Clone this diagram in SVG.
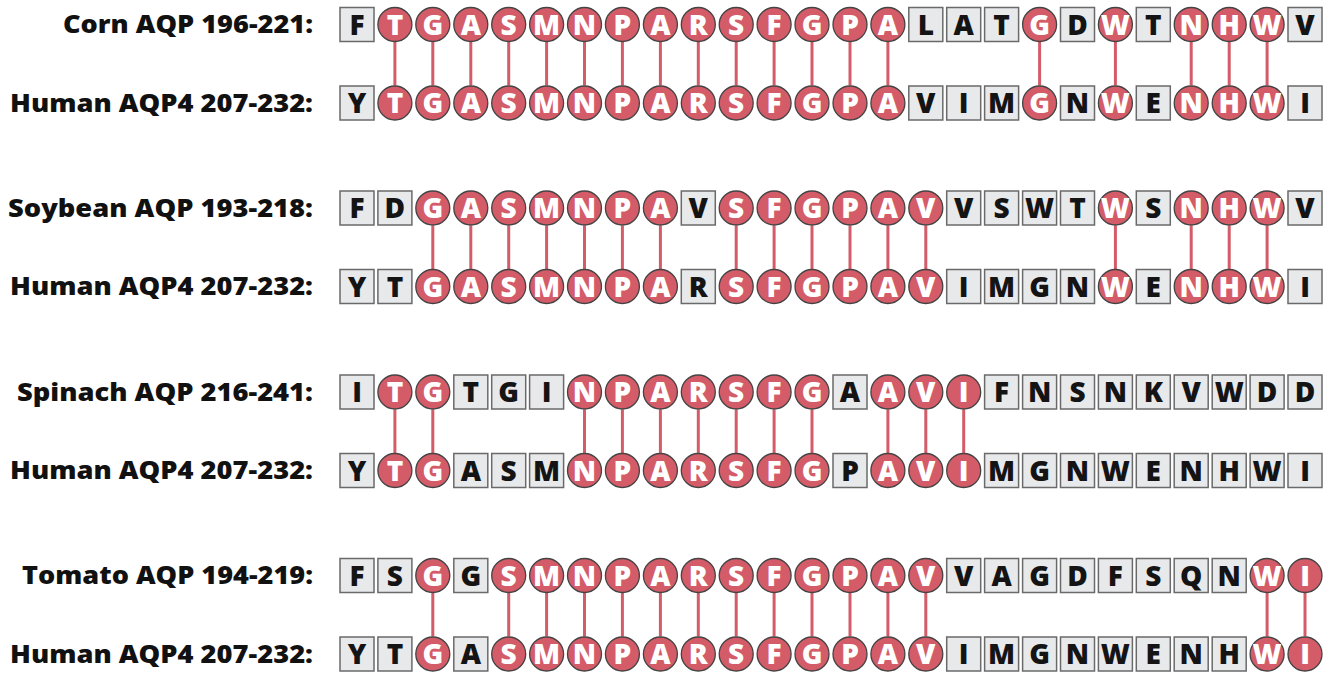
<svg xmlns="http://www.w3.org/2000/svg" width="1332" height="674" viewBox="0 0 1332 674">
<style>
.lbl{font-family:"Open Sans","Liberation Sans",sans-serif;font-weight:800;font-size:24px;fill:#111}
.b use{fill:#e8e9eb;stroke:#6a6a6a;stroke-width:1.5}
.c use{fill:#d45b68;stroke:#444;stroke-width:1.3}
.b text,.c text{font-family:"Open Sans","Liberation Sans",sans-serif;font-weight:800;font-size:28px;text-anchor:middle}
.b text{fill:#141414}
.c text{fill:#fff}
#connectors line{stroke:#d45b68;stroke-width:3}
</style>
<defs>
<rect id="bx" x="-17" y="-17" width="34" height="34"/>
<circle id="cc" r="17"/>
</defs>
<g id="labels">
<text class="lbl" x="63" y="33" textLength="250" lengthAdjust="spacingAndGlyphs">Corn AQP 196-221:</text>
<text class="lbl" x="10" y="111.5" textLength="303" lengthAdjust="spacingAndGlyphs">Human AQP4 207-232:</text>
<text class="lbl" x="8" y="216.5" textLength="305" lengthAdjust="spacingAndGlyphs">Soybean AQP 193-218:</text>
<text class="lbl" x="10" y="295" textLength="303" lengthAdjust="spacingAndGlyphs">Human AQP4 207-232:</text>
<text class="lbl" x="17" y="400.5" textLength="296" lengthAdjust="spacingAndGlyphs">Spinach AQP 216-241:</text>
<text class="lbl" x="10" y="479" textLength="303" lengthAdjust="spacingAndGlyphs">Human AQP4 207-232:</text>
<text class="lbl" x="22" y="584" textLength="291" lengthAdjust="spacingAndGlyphs">Tomato AQP 194-219:</text>
<text class="lbl" x="10" y="662.5" textLength="303" lengthAdjust="spacingAndGlyphs">Human AQP4 207-232:</text>
</g>
<g id="connectors">
<line x1="394.9" y1="42" x2="394.9" y2="85.5"/><line x1="432.8" y1="42" x2="432.8" y2="85.5"/><line x1="470.8" y1="42" x2="470.8" y2="85.5"/><line x1="508.7" y1="42" x2="508.7" y2="85.5"/><line x1="546.6" y1="42" x2="546.6" y2="85.5"/><line x1="584.5" y1="42" x2="584.5" y2="85.5"/><line x1="622.4" y1="42" x2="622.4" y2="85.5"/><line x1="660.4" y1="42" x2="660.4" y2="85.5"/><line x1="698.3" y1="42" x2="698.3" y2="85.5"/><line x1="736.2" y1="42" x2="736.2" y2="85.5"/><line x1="774.1" y1="42" x2="774.1" y2="85.5"/><line x1="812" y1="42" x2="812" y2="85.5"/><line x1="850" y1="42" x2="850" y2="85.5"/><line x1="887.9" y1="42" x2="887.9" y2="85.5"/><line x1="1039.6" y1="42" x2="1039.6" y2="85.5"/><line x1="1115.4" y1="42" x2="1115.4" y2="85.5"/><line x1="1191.2" y1="42" x2="1191.2" y2="85.5"/><line x1="1229.2" y1="42" x2="1229.2" y2="85.5"/><line x1="1267.1" y1="42" x2="1267.1" y2="85.5"/>
<line x1="432.8" y1="225.5" x2="432.8" y2="269"/><line x1="470.8" y1="225.5" x2="470.8" y2="269"/><line x1="508.7" y1="225.5" x2="508.7" y2="269"/><line x1="546.6" y1="225.5" x2="546.6" y2="269"/><line x1="584.5" y1="225.5" x2="584.5" y2="269"/><line x1="622.4" y1="225.5" x2="622.4" y2="269"/><line x1="660.4" y1="225.5" x2="660.4" y2="269"/><line x1="736.2" y1="225.5" x2="736.2" y2="269"/><line x1="774.1" y1="225.5" x2="774.1" y2="269"/><line x1="812" y1="225.5" x2="812" y2="269"/><line x1="850" y1="225.5" x2="850" y2="269"/><line x1="887.9" y1="225.5" x2="887.9" y2="269"/><line x1="925.8" y1="225.5" x2="925.8" y2="269"/><line x1="1115.4" y1="225.5" x2="1115.4" y2="269"/><line x1="1191.2" y1="225.5" x2="1191.2" y2="269"/><line x1="1229.2" y1="225.5" x2="1229.2" y2="269"/><line x1="1267.1" y1="225.5" x2="1267.1" y2="269"/>
<line x1="394.9" y1="409.5" x2="394.9" y2="453"/><line x1="432.8" y1="409.5" x2="432.8" y2="453"/><line x1="584.5" y1="409.5" x2="584.5" y2="453"/><line x1="622.4" y1="409.5" x2="622.4" y2="453"/><line x1="660.4" y1="409.5" x2="660.4" y2="453"/><line x1="698.3" y1="409.5" x2="698.3" y2="453"/><line x1="736.2" y1="409.5" x2="736.2" y2="453"/><line x1="774.1" y1="409.5" x2="774.1" y2="453"/><line x1="812" y1="409.5" x2="812" y2="453"/><line x1="887.9" y1="409.5" x2="887.9" y2="453"/><line x1="925.8" y1="409.5" x2="925.8" y2="453"/><line x1="963.7" y1="409.5" x2="963.7" y2="453"/>
<line x1="432.8" y1="593" x2="432.8" y2="636.5"/><line x1="508.7" y1="593" x2="508.7" y2="636.5"/><line x1="546.6" y1="593" x2="546.6" y2="636.5"/><line x1="584.5" y1="593" x2="584.5" y2="636.5"/><line x1="622.4" y1="593" x2="622.4" y2="636.5"/><line x1="660.4" y1="593" x2="660.4" y2="636.5"/><line x1="698.3" y1="593" x2="698.3" y2="636.5"/><line x1="736.2" y1="593" x2="736.2" y2="636.5"/><line x1="774.1" y1="593" x2="774.1" y2="636.5"/><line x1="812" y1="593" x2="812" y2="636.5"/><line x1="850" y1="593" x2="850" y2="636.5"/><line x1="887.9" y1="593" x2="887.9" y2="636.5"/><line x1="925.8" y1="593" x2="925.8" y2="636.5"/><line x1="1267.1" y1="593" x2="1267.1" y2="636.5"/><line x1="1305" y1="593" x2="1305" y2="636.5"/>
</g>
<g id="row-corn">
<g id="corn-1" class="b" transform="translate(357 24.5)"><use href="#bx"/><text y="10">F</text></g>
<g id="corn-2" class="c" transform="translate(394.9 24.5)"><use href="#cc"/><text y="10">T</text></g>
<g id="corn-3" class="c" transform="translate(432.8 24.5)"><use href="#cc"/><text y="10">G</text></g>
<g id="corn-4" class="c" transform="translate(470.8 24.5)"><use href="#cc"/><text y="10">A</text></g>
<g id="corn-5" class="c" transform="translate(508.7 24.5)"><use href="#cc"/><text y="10">S</text></g>
<g id="corn-6" class="c" transform="translate(546.6 24.5)"><use href="#cc"/><text y="10">M</text></g>
<g id="corn-7" class="c" transform="translate(584.5 24.5)"><use href="#cc"/><text y="10">N</text></g>
<g id="corn-8" class="c" transform="translate(622.4 24.5)"><use href="#cc"/><text y="10">P</text></g>
<g id="corn-9" class="c" transform="translate(660.4 24.5)"><use href="#cc"/><text y="10">A</text></g>
<g id="corn-10" class="c" transform="translate(698.3 24.5)"><use href="#cc"/><text y="10">R</text></g>
<g id="corn-11" class="c" transform="translate(736.2 24.5)"><use href="#cc"/><text y="10">S</text></g>
<g id="corn-12" class="c" transform="translate(774.1 24.5)"><use href="#cc"/><text y="10">F</text></g>
<g id="corn-13" class="c" transform="translate(812 24.5)"><use href="#cc"/><text y="10">G</text></g>
<g id="corn-14" class="c" transform="translate(850 24.5)"><use href="#cc"/><text y="10">P</text></g>
<g id="corn-15" class="c" transform="translate(887.9 24.5)"><use href="#cc"/><text y="10">A</text></g>
<g id="corn-16" class="b" transform="translate(925.8 24.5)"><use href="#bx"/><text y="10">L</text></g>
<g id="corn-17" class="b" transform="translate(963.7 24.5)"><use href="#bx"/><text y="10">A</text></g>
<g id="corn-18" class="b" transform="translate(1001.6 24.5)"><use href="#bx"/><text y="10">T</text></g>
<g id="corn-19" class="c" transform="translate(1039.6 24.5)"><use href="#cc"/><text y="10">G</text></g>
<g id="corn-20" class="b" transform="translate(1077.5 24.5)"><use href="#bx"/><text y="10">D</text></g>
<g id="corn-21" class="c" transform="translate(1115.4 24.5)"><use href="#cc"/><text y="10">W</text></g>
<g id="corn-22" class="b" transform="translate(1153.3 24.5)"><use href="#bx"/><text y="10">T</text></g>
<g id="corn-23" class="c" transform="translate(1191.2 24.5)"><use href="#cc"/><text y="10">N</text></g>
<g id="corn-24" class="c" transform="translate(1229.2 24.5)"><use href="#cc"/><text y="10">H</text></g>
<g id="corn-25" class="c" transform="translate(1267.1 24.5)"><use href="#cc"/><text y="10">W</text></g>
<g id="corn-26" class="b" transform="translate(1305 24.5)"><use href="#bx"/><text y="10">V</text></g>
</g>
<g id="row-human1">
<g id="h1-1" class="b" transform="translate(357 103)"><use href="#bx"/><text y="10">Y</text></g>
<g id="h1-2" class="c" transform="translate(394.9 103)"><use href="#cc"/><text y="10">T</text></g>
<g id="h1-3" class="c" transform="translate(432.8 103)"><use href="#cc"/><text y="10">G</text></g>
<g id="h1-4" class="c" transform="translate(470.8 103)"><use href="#cc"/><text y="10">A</text></g>
<g id="h1-5" class="c" transform="translate(508.7 103)"><use href="#cc"/><text y="10">S</text></g>
<g id="h1-6" class="c" transform="translate(546.6 103)"><use href="#cc"/><text y="10">M</text></g>
<g id="h1-7" class="c" transform="translate(584.5 103)"><use href="#cc"/><text y="10">N</text></g>
<g id="h1-8" class="c" transform="translate(622.4 103)"><use href="#cc"/><text y="10">P</text></g>
<g id="h1-9" class="c" transform="translate(660.4 103)"><use href="#cc"/><text y="10">A</text></g>
<g id="h1-10" class="c" transform="translate(698.3 103)"><use href="#cc"/><text y="10">R</text></g>
<g id="h1-11" class="c" transform="translate(736.2 103)"><use href="#cc"/><text y="10">S</text></g>
<g id="h1-12" class="c" transform="translate(774.1 103)"><use href="#cc"/><text y="10">F</text></g>
<g id="h1-13" class="c" transform="translate(812 103)"><use href="#cc"/><text y="10">G</text></g>
<g id="h1-14" class="c" transform="translate(850 103)"><use href="#cc"/><text y="10">P</text></g>
<g id="h1-15" class="c" transform="translate(887.9 103)"><use href="#cc"/><text y="10">A</text></g>
<g id="h1-16" class="b" transform="translate(925.8 103)"><use href="#bx"/><text y="10">V</text></g>
<g id="h1-17" class="b" transform="translate(963.7 103)"><use href="#bx"/><text y="10">I</text></g>
<g id="h1-18" class="b" transform="translate(1001.6 103)"><use href="#bx"/><text y="10">M</text></g>
<g id="h1-19" class="c" transform="translate(1039.6 103)"><use href="#cc"/><text y="10">G</text></g>
<g id="h1-20" class="b" transform="translate(1077.5 103)"><use href="#bx"/><text y="10">N</text></g>
<g id="h1-21" class="c" transform="translate(1115.4 103)"><use href="#cc"/><text y="10">W</text></g>
<g id="h1-22" class="b" transform="translate(1153.3 103)"><use href="#bx"/><text y="10">E</text></g>
<g id="h1-23" class="c" transform="translate(1191.2 103)"><use href="#cc"/><text y="10">N</text></g>
<g id="h1-24" class="c" transform="translate(1229.2 103)"><use href="#cc"/><text y="10">H</text></g>
<g id="h1-25" class="c" transform="translate(1267.1 103)"><use href="#cc"/><text y="10">W</text></g>
<g id="h1-26" class="b" transform="translate(1305 103)"><use href="#bx"/><text y="10">I</text></g>
</g>
<g id="row-soybean">
<g id="soy-1" class="b" transform="translate(357 208)"><use href="#bx"/><text y="10">F</text></g>
<g id="soy-2" class="b" transform="translate(394.9 208)"><use href="#bx"/><text y="10">D</text></g>
<g id="soy-3" class="c" transform="translate(432.8 208)"><use href="#cc"/><text y="10">G</text></g>
<g id="soy-4" class="c" transform="translate(470.8 208)"><use href="#cc"/><text y="10">A</text></g>
<g id="soy-5" class="c" transform="translate(508.7 208)"><use href="#cc"/><text y="10">S</text></g>
<g id="soy-6" class="c" transform="translate(546.6 208)"><use href="#cc"/><text y="10">M</text></g>
<g id="soy-7" class="c" transform="translate(584.5 208)"><use href="#cc"/><text y="10">N</text></g>
<g id="soy-8" class="c" transform="translate(622.4 208)"><use href="#cc"/><text y="10">P</text></g>
<g id="soy-9" class="c" transform="translate(660.4 208)"><use href="#cc"/><text y="10">A</text></g>
<g id="soy-10" class="b" transform="translate(698.3 208)"><use href="#bx"/><text y="10">V</text></g>
<g id="soy-11" class="c" transform="translate(736.2 208)"><use href="#cc"/><text y="10">S</text></g>
<g id="soy-12" class="c" transform="translate(774.1 208)"><use href="#cc"/><text y="10">F</text></g>
<g id="soy-13" class="c" transform="translate(812 208)"><use href="#cc"/><text y="10">G</text></g>
<g id="soy-14" class="c" transform="translate(850 208)"><use href="#cc"/><text y="10">P</text></g>
<g id="soy-15" class="c" transform="translate(887.9 208)"><use href="#cc"/><text y="10">A</text></g>
<g id="soy-16" class="c" transform="translate(925.8 208)"><use href="#cc"/><text y="10">V</text></g>
<g id="soy-17" class="b" transform="translate(963.7 208)"><use href="#bx"/><text y="10">V</text></g>
<g id="soy-18" class="b" transform="translate(1001.6 208)"><use href="#bx"/><text y="10">S</text></g>
<g id="soy-19" class="b" transform="translate(1039.6 208)"><use href="#bx"/><text y="10">W</text></g>
<g id="soy-20" class="b" transform="translate(1077.5 208)"><use href="#bx"/><text y="10">T</text></g>
<g id="soy-21" class="c" transform="translate(1115.4 208)"><use href="#cc"/><text y="10">W</text></g>
<g id="soy-22" class="b" transform="translate(1153.3 208)"><use href="#bx"/><text y="10">S</text></g>
<g id="soy-23" class="c" transform="translate(1191.2 208)"><use href="#cc"/><text y="10">N</text></g>
<g id="soy-24" class="c" transform="translate(1229.2 208)"><use href="#cc"/><text y="10">H</text></g>
<g id="soy-25" class="c" transform="translate(1267.1 208)"><use href="#cc"/><text y="10">W</text></g>
<g id="soy-26" class="b" transform="translate(1305 208)"><use href="#bx"/><text y="10">V</text></g>
</g>
<g id="row-human2">
<g id="h2-1" class="b" transform="translate(357 286.5)"><use href="#bx"/><text y="10">Y</text></g>
<g id="h2-2" class="b" transform="translate(394.9 286.5)"><use href="#bx"/><text y="10">T</text></g>
<g id="h2-3" class="c" transform="translate(432.8 286.5)"><use href="#cc"/><text y="10">G</text></g>
<g id="h2-4" class="c" transform="translate(470.8 286.5)"><use href="#cc"/><text y="10">A</text></g>
<g id="h2-5" class="c" transform="translate(508.7 286.5)"><use href="#cc"/><text y="10">S</text></g>
<g id="h2-6" class="c" transform="translate(546.6 286.5)"><use href="#cc"/><text y="10">M</text></g>
<g id="h2-7" class="c" transform="translate(584.5 286.5)"><use href="#cc"/><text y="10">N</text></g>
<g id="h2-8" class="c" transform="translate(622.4 286.5)"><use href="#cc"/><text y="10">P</text></g>
<g id="h2-9" class="c" transform="translate(660.4 286.5)"><use href="#cc"/><text y="10">A</text></g>
<g id="h2-10" class="b" transform="translate(698.3 286.5)"><use href="#bx"/><text y="10">R</text></g>
<g id="h2-11" class="c" transform="translate(736.2 286.5)"><use href="#cc"/><text y="10">S</text></g>
<g id="h2-12" class="c" transform="translate(774.1 286.5)"><use href="#cc"/><text y="10">F</text></g>
<g id="h2-13" class="c" transform="translate(812 286.5)"><use href="#cc"/><text y="10">G</text></g>
<g id="h2-14" class="c" transform="translate(850 286.5)"><use href="#cc"/><text y="10">P</text></g>
<g id="h2-15" class="c" transform="translate(887.9 286.5)"><use href="#cc"/><text y="10">A</text></g>
<g id="h2-16" class="c" transform="translate(925.8 286.5)"><use href="#cc"/><text y="10">V</text></g>
<g id="h2-17" class="b" transform="translate(963.7 286.5)"><use href="#bx"/><text y="10">I</text></g>
<g id="h2-18" class="b" transform="translate(1001.6 286.5)"><use href="#bx"/><text y="10">M</text></g>
<g id="h2-19" class="b" transform="translate(1039.6 286.5)"><use href="#bx"/><text y="10">G</text></g>
<g id="h2-20" class="b" transform="translate(1077.5 286.5)"><use href="#bx"/><text y="10">N</text></g>
<g id="h2-21" class="c" transform="translate(1115.4 286.5)"><use href="#cc"/><text y="10">W</text></g>
<g id="h2-22" class="b" transform="translate(1153.3 286.5)"><use href="#bx"/><text y="10">E</text></g>
<g id="h2-23" class="c" transform="translate(1191.2 286.5)"><use href="#cc"/><text y="10">N</text></g>
<g id="h2-24" class="c" transform="translate(1229.2 286.5)"><use href="#cc"/><text y="10">H</text></g>
<g id="h2-25" class="c" transform="translate(1267.1 286.5)"><use href="#cc"/><text y="10">W</text></g>
<g id="h2-26" class="b" transform="translate(1305 286.5)"><use href="#bx"/><text y="10">I</text></g>
</g>
<g id="row-spinach">
<g id="spin-1" class="b" transform="translate(357 392)"><use href="#bx"/><text y="10">I</text></g>
<g id="spin-2" class="c" transform="translate(394.9 392)"><use href="#cc"/><text y="10">T</text></g>
<g id="spin-3" class="c" transform="translate(432.8 392)"><use href="#cc"/><text y="10">G</text></g>
<g id="spin-4" class="b" transform="translate(470.8 392)"><use href="#bx"/><text y="10">T</text></g>
<g id="spin-5" class="b" transform="translate(508.7 392)"><use href="#bx"/><text y="10">G</text></g>
<g id="spin-6" class="b" transform="translate(546.6 392)"><use href="#bx"/><text y="10">I</text></g>
<g id="spin-7" class="c" transform="translate(584.5 392)"><use href="#cc"/><text y="10">N</text></g>
<g id="spin-8" class="c" transform="translate(622.4 392)"><use href="#cc"/><text y="10">P</text></g>
<g id="spin-9" class="c" transform="translate(660.4 392)"><use href="#cc"/><text y="10">A</text></g>
<g id="spin-10" class="c" transform="translate(698.3 392)"><use href="#cc"/><text y="10">R</text></g>
<g id="spin-11" class="c" transform="translate(736.2 392)"><use href="#cc"/><text y="10">S</text></g>
<g id="spin-12" class="c" transform="translate(774.1 392)"><use href="#cc"/><text y="10">F</text></g>
<g id="spin-13" class="c" transform="translate(812 392)"><use href="#cc"/><text y="10">G</text></g>
<g id="spin-14" class="b" transform="translate(850 392)"><use href="#bx"/><text y="10">A</text></g>
<g id="spin-15" class="c" transform="translate(887.9 392)"><use href="#cc"/><text y="10">A</text></g>
<g id="spin-16" class="c" transform="translate(925.8 392)"><use href="#cc"/><text y="10">V</text></g>
<g id="spin-17" class="c" transform="translate(963.7 392)"><use href="#cc"/><text y="10">I</text></g>
<g id="spin-18" class="b" transform="translate(1001.6 392)"><use href="#bx"/><text y="10">F</text></g>
<g id="spin-19" class="b" transform="translate(1039.6 392)"><use href="#bx"/><text y="10">N</text></g>
<g id="spin-20" class="b" transform="translate(1077.5 392)"><use href="#bx"/><text y="10">S</text></g>
<g id="spin-21" class="b" transform="translate(1115.4 392)"><use href="#bx"/><text y="10">N</text></g>
<g id="spin-22" class="b" transform="translate(1153.3 392)"><use href="#bx"/><text y="10">K</text></g>
<g id="spin-23" class="b" transform="translate(1191.2 392)"><use href="#bx"/><text y="10">V</text></g>
<g id="spin-24" class="b" transform="translate(1229.2 392)"><use href="#bx"/><text y="10">W</text></g>
<g id="spin-25" class="b" transform="translate(1267.1 392)"><use href="#bx"/><text y="10">D</text></g>
<g id="spin-26" class="b" transform="translate(1305 392)"><use href="#bx"/><text y="10">D</text></g>
</g>
<g id="row-human3">
<g id="h3-1" class="b" transform="translate(357 470.5)"><use href="#bx"/><text y="10">Y</text></g>
<g id="h3-2" class="c" transform="translate(394.9 470.5)"><use href="#cc"/><text y="10">T</text></g>
<g id="h3-3" class="c" transform="translate(432.8 470.5)"><use href="#cc"/><text y="10">G</text></g>
<g id="h3-4" class="b" transform="translate(470.8 470.5)"><use href="#bx"/><text y="10">A</text></g>
<g id="h3-5" class="b" transform="translate(508.7 470.5)"><use href="#bx"/><text y="10">S</text></g>
<g id="h3-6" class="b" transform="translate(546.6 470.5)"><use href="#bx"/><text y="10">M</text></g>
<g id="h3-7" class="c" transform="translate(584.5 470.5)"><use href="#cc"/><text y="10">N</text></g>
<g id="h3-8" class="c" transform="translate(622.4 470.5)"><use href="#cc"/><text y="10">P</text></g>
<g id="h3-9" class="c" transform="translate(660.4 470.5)"><use href="#cc"/><text y="10">A</text></g>
<g id="h3-10" class="c" transform="translate(698.3 470.5)"><use href="#cc"/><text y="10">R</text></g>
<g id="h3-11" class="c" transform="translate(736.2 470.5)"><use href="#cc"/><text y="10">S</text></g>
<g id="h3-12" class="c" transform="translate(774.1 470.5)"><use href="#cc"/><text y="10">F</text></g>
<g id="h3-13" class="c" transform="translate(812 470.5)"><use href="#cc"/><text y="10">G</text></g>
<g id="h3-14" class="b" transform="translate(850 470.5)"><use href="#bx"/><text y="10">P</text></g>
<g id="h3-15" class="c" transform="translate(887.9 470.5)"><use href="#cc"/><text y="10">A</text></g>
<g id="h3-16" class="c" transform="translate(925.8 470.5)"><use href="#cc"/><text y="10">V</text></g>
<g id="h3-17" class="c" transform="translate(963.7 470.5)"><use href="#cc"/><text y="10">I</text></g>
<g id="h3-18" class="b" transform="translate(1001.6 470.5)"><use href="#bx"/><text y="10">M</text></g>
<g id="h3-19" class="b" transform="translate(1039.6 470.5)"><use href="#bx"/><text y="10">G</text></g>
<g id="h3-20" class="b" transform="translate(1077.5 470.5)"><use href="#bx"/><text y="10">N</text></g>
<g id="h3-21" class="b" transform="translate(1115.4 470.5)"><use href="#bx"/><text y="10">W</text></g>
<g id="h3-22" class="b" transform="translate(1153.3 470.5)"><use href="#bx"/><text y="10">E</text></g>
<g id="h3-23" class="b" transform="translate(1191.2 470.5)"><use href="#bx"/><text y="10">N</text></g>
<g id="h3-24" class="b" transform="translate(1229.2 470.5)"><use href="#bx"/><text y="10">H</text></g>
<g id="h3-25" class="b" transform="translate(1267.1 470.5)"><use href="#bx"/><text y="10">W</text></g>
<g id="h3-26" class="b" transform="translate(1305 470.5)"><use href="#bx"/><text y="10">I</text></g>
</g>
<g id="row-tomato">
<g id="tom-1" class="b" transform="translate(357 575.5)"><use href="#bx"/><text y="10">F</text></g>
<g id="tom-2" class="b" transform="translate(394.9 575.5)"><use href="#bx"/><text y="10">S</text></g>
<g id="tom-3" class="c" transform="translate(432.8 575.5)"><use href="#cc"/><text y="10">G</text></g>
<g id="tom-4" class="b" transform="translate(470.8 575.5)"><use href="#bx"/><text y="10">G</text></g>
<g id="tom-5" class="c" transform="translate(508.7 575.5)"><use href="#cc"/><text y="10">S</text></g>
<g id="tom-6" class="c" transform="translate(546.6 575.5)"><use href="#cc"/><text y="10">M</text></g>
<g id="tom-7" class="c" transform="translate(584.5 575.5)"><use href="#cc"/><text y="10">N</text></g>
<g id="tom-8" class="c" transform="translate(622.4 575.5)"><use href="#cc"/><text y="10">P</text></g>
<g id="tom-9" class="c" transform="translate(660.4 575.5)"><use href="#cc"/><text y="10">A</text></g>
<g id="tom-10" class="c" transform="translate(698.3 575.5)"><use href="#cc"/><text y="10">R</text></g>
<g id="tom-11" class="c" transform="translate(736.2 575.5)"><use href="#cc"/><text y="10">S</text></g>
<g id="tom-12" class="c" transform="translate(774.1 575.5)"><use href="#cc"/><text y="10">F</text></g>
<g id="tom-13" class="c" transform="translate(812 575.5)"><use href="#cc"/><text y="10">G</text></g>
<g id="tom-14" class="c" transform="translate(850 575.5)"><use href="#cc"/><text y="10">P</text></g>
<g id="tom-15" class="c" transform="translate(887.9 575.5)"><use href="#cc"/><text y="10">A</text></g>
<g id="tom-16" class="c" transform="translate(925.8 575.5)"><use href="#cc"/><text y="10">V</text></g>
<g id="tom-17" class="b" transform="translate(963.7 575.5)"><use href="#bx"/><text y="10">V</text></g>
<g id="tom-18" class="b" transform="translate(1001.6 575.5)"><use href="#bx"/><text y="10">A</text></g>
<g id="tom-19" class="b" transform="translate(1039.6 575.5)"><use href="#bx"/><text y="10">G</text></g>
<g id="tom-20" class="b" transform="translate(1077.5 575.5)"><use href="#bx"/><text y="10">D</text></g>
<g id="tom-21" class="b" transform="translate(1115.4 575.5)"><use href="#bx"/><text y="10">F</text></g>
<g id="tom-22" class="b" transform="translate(1153.3 575.5)"><use href="#bx"/><text y="10">S</text></g>
<g id="tom-23" class="b" transform="translate(1191.2 575.5)"><use href="#bx"/><text y="10">Q</text></g>
<g id="tom-24" class="b" transform="translate(1229.2 575.5)"><use href="#bx"/><text y="10">N</text></g>
<g id="tom-25" class="c" transform="translate(1267.1 575.5)"><use href="#cc"/><text y="10">W</text></g>
<g id="tom-26" class="c" transform="translate(1305 575.5)"><use href="#cc"/><text y="10">I</text></g>
</g>
<g id="row-human4">
<g id="h4-1" class="b" transform="translate(357 654)"><use href="#bx"/><text y="10">Y</text></g>
<g id="h4-2" class="b" transform="translate(394.9 654)"><use href="#bx"/><text y="10">T</text></g>
<g id="h4-3" class="c" transform="translate(432.8 654)"><use href="#cc"/><text y="10">G</text></g>
<g id="h4-4" class="b" transform="translate(470.8 654)"><use href="#bx"/><text y="10">A</text></g>
<g id="h4-5" class="c" transform="translate(508.7 654)"><use href="#cc"/><text y="10">S</text></g>
<g id="h4-6" class="c" transform="translate(546.6 654)"><use href="#cc"/><text y="10">M</text></g>
<g id="h4-7" class="c" transform="translate(584.5 654)"><use href="#cc"/><text y="10">N</text></g>
<g id="h4-8" class="c" transform="translate(622.4 654)"><use href="#cc"/><text y="10">P</text></g>
<g id="h4-9" class="c" transform="translate(660.4 654)"><use href="#cc"/><text y="10">A</text></g>
<g id="h4-10" class="c" transform="translate(698.3 654)"><use href="#cc"/><text y="10">R</text></g>
<g id="h4-11" class="c" transform="translate(736.2 654)"><use href="#cc"/><text y="10">S</text></g>
<g id="h4-12" class="c" transform="translate(774.1 654)"><use href="#cc"/><text y="10">F</text></g>
<g id="h4-13" class="c" transform="translate(812 654)"><use href="#cc"/><text y="10">G</text></g>
<g id="h4-14" class="c" transform="translate(850 654)"><use href="#cc"/><text y="10">P</text></g>
<g id="h4-15" class="c" transform="translate(887.9 654)"><use href="#cc"/><text y="10">A</text></g>
<g id="h4-16" class="c" transform="translate(925.8 654)"><use href="#cc"/><text y="10">V</text></g>
<g id="h4-17" class="b" transform="translate(963.7 654)"><use href="#bx"/><text y="10">I</text></g>
<g id="h4-18" class="b" transform="translate(1001.6 654)"><use href="#bx"/><text y="10">M</text></g>
<g id="h4-19" class="b" transform="translate(1039.6 654)"><use href="#bx"/><text y="10">G</text></g>
<g id="h4-20" class="b" transform="translate(1077.5 654)"><use href="#bx"/><text y="10">N</text></g>
<g id="h4-21" class="b" transform="translate(1115.4 654)"><use href="#bx"/><text y="10">W</text></g>
<g id="h4-22" class="b" transform="translate(1153.3 654)"><use href="#bx"/><text y="10">E</text></g>
<g id="h4-23" class="b" transform="translate(1191.2 654)"><use href="#bx"/><text y="10">N</text></g>
<g id="h4-24" class="b" transform="translate(1229.2 654)"><use href="#bx"/><text y="10">H</text></g>
<g id="h4-25" class="c" transform="translate(1267.1 654)"><use href="#cc"/><text y="10">W</text></g>
<g id="h4-26" class="c" transform="translate(1305 654)"><use href="#cc"/><text y="10">I</text></g>
</g>
</svg>
